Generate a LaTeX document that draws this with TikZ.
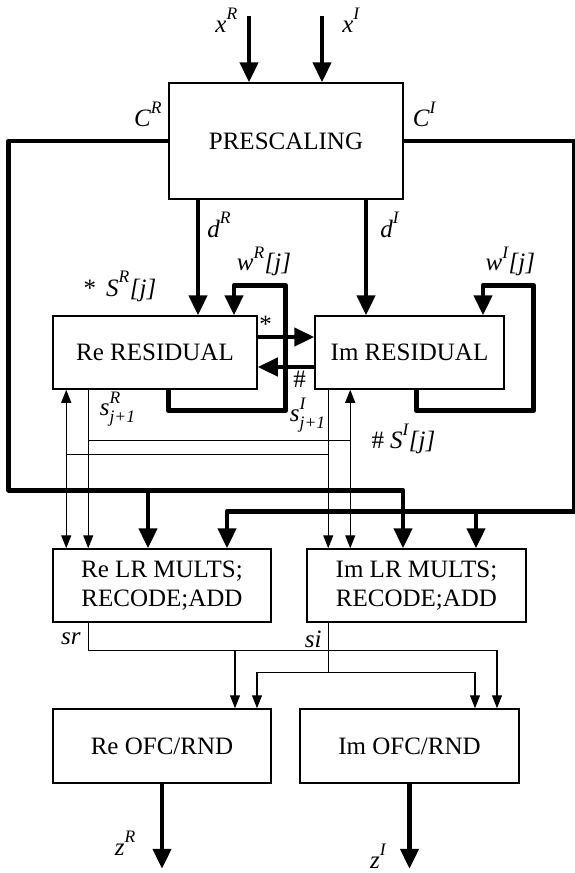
\documentclass[tikz,border=0pt]{standalone}
\usepackage{amsmath}
\usepackage{fontspec}
\setmainfont{Liberation Serif}
\usepackage{tikz}
\usetikzlibrary{positioning, arrows.meta}

\newcommand{\boxfont}{\fontsize{25}{29}\selectfont}
\newcommand{\vi}[1]{\textit{#1}}
\newcommand{\up}[1]{^{\raisebox{3.5pt}{$\scriptstyle\vi{#1}$}}}

\begin{document}
\begin{tikzpicture}[x=1pt, y=-1pt, on grid, auto,
    box/.style={draw, line width=1.5pt, inner sep=2pt, align=center, font=\boxfont},
    lbl/.style={inner sep=0pt, font=\boxfont},
    bus/.style={line width=4.6pt, line join=round},
    busarr/.style={bus, -{Triangle[length=20pt,width=18pt]}},
    sig/.style={line width=1.3pt},
    sigarr/.style={sig, -{Triangle[length=13pt,width=10pt]}}]
    \useasboundingbox (0,0) rectangle (575,873);

    % Blocks
    \node[box, minimum width=234pt, minimum height=116pt] (pre) at (286,141) {PRESCALING};
    \node[box, minimum width=204pt, minimum height=73pt, below left=211.5pt and 131pt of pre] (reres) {Re RESIDUAL};
    \node[box, minimum width=189pt, minimum height=73pt, right=254.5pt of reres] (imres) {Im RESIDUAL};
    \node[box, minimum width=218pt, minimum height=73pt, below right=233pt and 7pt of reres] (relr) {Re LR MULTS;\\RECODE;ADD};
    \node[box, minimum width=219pt, minimum height=73pt, right=254.5pt of relr] (imlr) {Im LR MULTS;\\RECODE;ADD};
    \node[box, minimum width=218pt, minimum height=74pt, below=160.5pt of relr] (reofc) {Re OFC/RND};
    \node[box, minimum width=219pt, minimum height=74pt, right=247.5pt of reofc] (imofc) {Im OFC/RND};

    % Inputs, outputs and divisor lines
    \coordinate (xr) at ([xshift=-37pt,yshift=66pt]pre.north);
    \coordinate (xi) at ([xshift=36pt,yshift=66pt]pre.north);
    \coordinate (dr) at ([xshift=-88pt]pre.south);
    \coordinate (di) at ([xshift=80pt]pre.south);
    \coordinate (zr) at ([yshift=-85pt]reofc.south);
    \coordinate (zi) at ([yshift=-85pt]imofc.south);

    % Digit columns between residuals and multipliers
    \coordinate (rei) at ([xshift=14pt]reres.south west);
    \coordinate (reo) at ([xshift=36pt]reres.south west);
    \coordinate (imo) at ([xshift=14pt]imres.south west);
    \coordinate (imi) at ([xshift=36pt]imres.south west);
    \coordinate (jr) at ([yshift=-51pt]reo);
    \coordinate (ji) at ([yshift=-65pt]imo);

    % C buses
    \coordinate (crl) at ([xshift=-159.5pt]pre.west);
    \coordinate (cir) at ([xshift=171pt]pre.east);
    \coordinate (cra) at ([xshift=-14pt]relr.north);
    \coordinate (crb) at ([xshift=-13.5pt]imlr.north);
    \coordinate (cia) at ([xshift=65pt]relr.north);
    \coordinate (cib) at ([xshift=59.5pt]imlr.north);

    % Sum lines into rounding
    \coordinate (sra) at ([xshift=73pt]reofc.north);
    \coordinate (srb) at ([xshift=87.5pt]imofc.north);
    \coordinate (sia) at ([xshift=95pt]reofc.north);
    \coordinate (sib) at ([xshift=65.5pt]imofc.north);

    % Thick data paths
    \draw[busarr] (xr) -- node[lbl, left=9pt, pos=0.06] {$\vi{x}\up{R}$} (xr |- pre.north);
    \draw[busarr] (xi) -- node[lbl, right=18pt, pos=0.06] {$\vi{x}\up{I}$} (xi |- pre.north);
    \draw[busarr] (dr) -- node[lbl, right=7pt, pos=0.22] {$\vi{d}\up{R}$} (dr |- reres.north);
    \draw[busarr] (di) -- node[lbl, right=12pt, pos=0.22] {$\vi{d}\up{I}$} (di |- imres.north);
    \draw[busarr] ([yshift=15.5pt]reres.east) -- node[lbl, above=2pt, pos=0.14] {*} ([yshift=15.5pt]imres.west);
    \draw[busarr] ([yshift=-14.5pt]imres.west) -- node[lbl, below=2pt, pos=0.26] {\#} ([yshift=-14.5pt]reres.east);

    % Residual feedback loops
    \draw[busarr] ([xshift=116pt]reres.south west) |- ([xshift=28pt,yshift=-21pt]reres.south east)
        |- node[lbl, above=7pt, pos=0.71] {$\vi{w}\up{R}\vi{[j]}$} ([xshift=79pt,yshift=30pt]reres.north) -- ([xshift=79pt]reres.north);
    \draw[busarr] ([xshift=102pt]imres.south west) |- ([xshift=29pt,yshift=-21pt]imres.south east)
        |- node[lbl, above=7pt, pos=0.73] {$\vi{w}\up{I}\vi{[j]}$} ([xshift=73.5pt,yshift=30pt]imres.north) -- ([xshift=73.5pt]imres.north);

    % C^R and C^I to the multipliers
    \draw[busarr] (pre.west) -- (crl) |- ([yshift=58pt]crb) -- (crb);
    \draw[busarr] ([yshift=58pt]cra) -- (cra);
    \draw[busarr] (pre.east) -- (cir) |- ([yshift=37pt]cia) -- (cia);
    \draw[busarr] ([yshift=37pt]cib) -- (cib);
    \node[lbl, anchor=south east] (lcr) at ([xshift=-6pt,yshift=14pt]pre.west) {$\vi{C}\up{R}$};
    \node[lbl, anchor=south west] (lci) at ([xshift=9pt,yshift=14pt]pre.east) {$\vi{C}\up{I}$};

    % Quotient digits
    \draw[sigarr] (reo) -- node[lbl, right=11pt, pos=0.12] {$\vi{s}\up{R}_{\vi{j+1}}$} (reo |- relr.north);
    \draw[sigarr] (jr) -| (imi);
    \draw[sigarr] (imi |- jr) -- (imi |- imlr.north);
    \draw[sigarr] (imo) -- node[lbl, left=2pt, pos=0.16] {$\vi{s}\up{I}_{\vi{j+1}}$} (imo |- imlr.north);
    \draw[sigarr] (ji) -| (rei);
    \draw[sigarr] (rei |- ji) -- (rei |- relr.north);
    \node[lbl] (srj) at ([xshift=-35pt,yshift=29pt]reres.north) {*\hspace{10pt}$\vi{S}\up{R}\vi{[j]}$};
    \node[lbl] (sij) at ([xshift=-6pt,yshift=-49pt]imres.south) {\#\hspace{6pt}$\vi{S}\up{I}\vi{[j]}$};

    % Sums to rounding
    \draw[sig] (reo |- relr.south) |- node[lbl, left=7pt, pos=0.29] {$\vi{sr}$} ([yshift=58pt]sra);
    \draw[sigarr] ([yshift=58pt]sra) -- (sra);
    \draw[sigarr] ([yshift=58pt]sra) -| (srb);
    \draw[sig] (imo |- imlr.south) |- node[lbl, left=6pt, pos=0.17] {$\vi{si}$} ([yshift=36pt]sia);
    \draw[sigarr] ([yshift=36pt]sia) -- (sia);
    \draw[sigarr] ([yshift=36pt]sia) -| (sib);

    % Results
    \draw[busarr] (reofc.south) -- node[lbl, left=24pt, pos=0.7] {$\vi{z}\up{R}$} (zr);
    \draw[busarr] (imofc.south) -- node[lbl, left=21pt, pos=0.85] {$\vi{z}\up{I}$} (zi);
\end{tikzpicture}
\end{document}
